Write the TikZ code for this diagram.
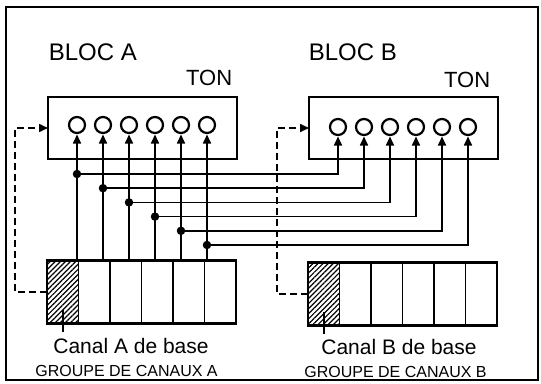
\documentclass[tikz,border=0pt]{standalone}
\usepackage{fontspec}
\setmainfont{Liberation Sans}
\usepackage{tikz}
\usetikzlibrary{arrows.meta,positioning,patterns.meta}

\begin{document}
\begin{tikzpicture}[
  x=1pt,y=-1pt,
  line width=1.6pt,
  big/.style={font=\fontsize{24}{28}\selectfont,inner sep=0pt},
  ton/.style={font=\fontsize{22}{26}\selectfont,inner sep=0pt},
  lbl/.style={font=\fontsize{21}{25}\selectfont,inner sep=0pt,anchor=base},
  grp/.style={font=\fontsize{16}{19}\selectfont,inner sep=0pt,anchor=base},
  panel/.style={draw,line width=2.2pt,minimum width=189pt,minimum height=62pt,
                inner sep=0pt,outer sep=0pt},
  lamp/.style={draw,circle,line width=2.2pt,minimum size=16pt,inner sep=0pt,outer sep=0pt},
  cell/.style={draw,line width=1.6pt,minimum width=31.5pt,minimum height=63pt,
               inner sep=0pt,outer sep=0pt},
  basecell/.style={cell,pattern={Lines[angle=45,distance=3.6pt,line width=1.2pt]}},
  wire/.style={-{Triangle[length=9pt,width=8pt]},line width=1.6pt},
  fb/.style={wire,dash pattern=on 7pt off 4pt},
  dot/.style={circle,fill,inner sep=0pt,minimum size=8.5pt},
  ]
  \useasboundingbox (0,0) rectangle (541,383);
  \draw[line width=2.2pt] (6,7) rectangle (538,380);
  % the two TON panels
  \node[panel]                   (ta) at (142.5,128) {};
  \node[panel,right=72pt of ta]  (tb) {};
  \node[big,anchor=base west] (blA) at (48,60)  {BLOC A};
  \node[big,anchor=base west] (blB) at (308,60) {BLOC B};
  \node[ton,anchor=base east] (tnA) at (233,85)  {TON};
  \node[ton,anchor=base east] (tnB) at (491,87)  {TON};
  \foreach \i in {1,...,6} {
    \node[lamp] (la\i) at (51+26*\i,125) {};
    \node[lamp] (lb\i) at (312+26*\i,127) {};
  }
  % channel groups
  \node[basecell] (ca1) at (62.75,292) {};
  \node[basecell] (cb1) at (323.75,294) {};
  \foreach \i [count=\j] in {2,...,6} {
    \node[cell,right=0pt of ca\j] (ca\i) {};
    \node[cell,right=0pt of cb\j] (cb\i) {};
  }
  \draw[line width=2.2pt] (ca1.north west) rectangle (ca6.south east);
  \draw[line width=2.2pt] (cb1.north west) rectangle (cb6.south east);
  % wiring
  \foreach \i in {1,...,6} {
    \draw[wire] (la\i.south |- ca1.north) -- ([yshift=-1.5pt]la\i.south);
    \path (0,159.8+14.2*\i) coordinate (h\i);
    \coordinate (j\i) at (la\i.south |- h\i);
    \draw[wire] (j\i) -| ([yshift=-1.5pt]lb\i.south);
    \node[dot] (d\i) at (j\i) {};
  }
  \draw[fb] (ca1.west) -- ++(-32,0) |- (ta.west);
  \draw[fb] (cb1.west) -- ++(-31,0) |- (tb.west);
  % labels
  \draw (ca1.center) ++(0,18) -- ++(0,22);
  \draw (cb1.center) ++(0,18) -- ++(0,22);
  \node[lbl] (cA) at (131,353)   {Canal A de base};
  \node[grp] (gA) at (126.5,376) {GROUPE DE CANAUX A};
  \node[lbl] (cB) at (399,354)   {Canal B de base};
  \node[grp] (gB) at (395.5,377) {GROUPE DE CANAUX B};
\end{tikzpicture}
\end{document}
